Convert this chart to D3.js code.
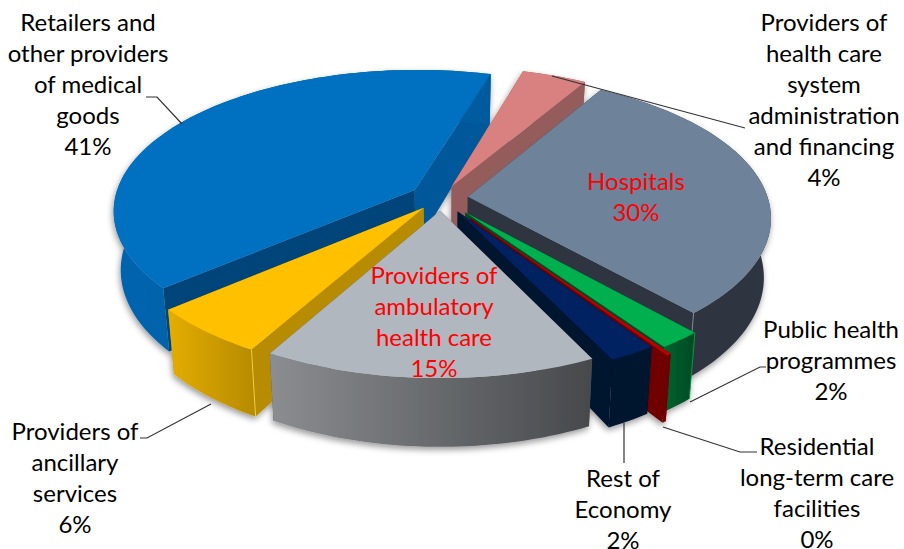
<!DOCTYPE html>
<html>
<head>
<meta charset="utf-8">
<script src="https://cdn.jsdelivr.net/npm/d3@7"></script>
<style>
  html, body { margin: 0; padding: 0; background: #fff; }
  svg { display: block; }
  text { font-family: Lato, Carlito, sans-serif; font-size: 24px; text-anchor: middle; dominant-baseline: central; fill: #000; }
</style>
</head>
<body>
<div id="chart"></div>
<script>
// chart values, clockwise from the Hospitals slice
const categories = ["Hospitals", "Public health programmes", "Residential long-term care facilities", "Rest of Economy", "Providers of ambulatory health care", "Providers of ancillary services", "Retailers and other providers of medical goods", "Providers of health care system administration and financing"];
const values = [30, 2, 0.2, 2.2, 15.4, 5.6, 40.8, 4];
const percentLabels = ["30%", "2%", "0%", "2%", "15%", "6%", "41%", "4%"];

// slice styling, same order as above
const explode = [0.09, 0.13, 0.17, 0.11, 0.09, 0.09, 0.105, 0.09];
const topColors = ["#6e8299", "#00b050", "#c00000", "#002060", "#b1b7bf", "#ffc000", "#0070c0", "#d98080"];
const wallLeft = ["#2e3640", "#00632e", "#700000", "#00122f", "#8b8d90", "#e4ad00", "#0064ae", "#955b5b"];
const wallRight = ["#2e3640", "#004a22", "#700000", "#00122f", "#46494c", "#b88c00", "#005a9e", "#955b5b"];
const cutStart = ["#2e3640", "#004a22", "#700000", "#00122f", "#46494c", "#b88c00", "#00457a", "#955b5b"];
const cutEnd = ["#2e3640", "#004a22", "#700000", "#00122f", "#46494c", "#b88c00", "#00599b", "#955b5b"];
const drawOrder = [6, 7, 0, 1, 2, 3, 5, 4];
// light seam down the near corner: slice index, which end of its rim, colour
const seams = [[0, "end", "#8b97a5"], [5, "start", "#ffd54d"], [1, "start", "#00b050"]];

// text blocks: lines, centre x, first line y
const labelLines = [
  ["Hospitals", percentLabels[0]],
  ["Public health", "programmes", percentLabels[1]],
  ["Residential", "long-term care", "facilities", percentLabels[2]],
  ["Rest of", "Economy", percentLabels[3]],
  ["Providers of", "ambulatory", "health care", percentLabels[4]],
  ["Providers of", "ancillary", "services", percentLabels[5]],
  ["Retailers and", "other providers", "of medical", "goods", percentLabels[6]],
  ["Providers of", "health care", "system", "administration", "and financing", percentLabels[7]]
];
const labelX = [636, 831, 817, 623, 434, 75, 88, 824];
const labelY = [180, 328, 445, 477, 274, 430, 21, 21];
const labelColor = ["#ff0000", "#000", "#000", "#000", "#ff0000", "#000", "#000", "#000"];
const leaders = [
  [[690, 402], [760, 367], [766, 367]],
  [[663, 427], [740, 452], [757, 452]],
  [[624, 423], [624, 463]],
  [[140, 438], [147, 438], [211, 404]],
  [[146, 97], [157, 97], [182, 124]],
  [[552, 76], [745, 128]]
];

const width = 904, height = 549;
const cx = 441, cy = 198, radius = 300, tilt = 0.465, wallH = 58;
const persX = 0.14, persY = 0.143, sink = 0.022;

const svg = d3.select("#chart").append("svg").attr("width", width).attr("height", height);
const defs = svg.append("defs");

const shadow = defs.append("filter").attr("id", "soft").attr("x", "-10%").attr("y", "-10%").attr("width", "120%").attr("height", "125%");
shadow.append("feDropShadow").attr("dx", -1).attr("dy", 3).attr("stdDeviation", 3).attr("flood-color", "#000").attr("flood-opacity", 0.4);

const pie = d3.pie().sort(null).startAngle(30.5 * Math.PI / 180).endAngle(390.5 * Math.PI / 180);
const slices = pie(values);

// theta clockwise from north, r in pie radii, z 0 = top face 1 = bottom
const project = (theta, r, z, slice, off) => {
  const mid = (slice.startAngle + slice.endAngle) / 2;
  const X = r * Math.sin(theta) + off * Math.sin(mid);
  const Y = -r * Math.cos(theta) - off * Math.cos(mid);
  const wx = (1 - persX * Y) * (1 + sink * z);
  const wy = 1 - persY * Y;
  return [cx + radius * X / wx, cy + (radius * tilt * Y + wallH * z) / wy];
};

const line = d3.line();
const rim = (slice, off, z) => {
  const n = Math.max(2, Math.ceil((slice.endAngle - slice.startAngle) * 40));
  return d3.range(n + 1).map(i => project(slice.startAngle + (slice.endAngle - slice.startAngle) * i / n, 1, z, slice, off));
};

const pieLayer = svg.append("g").attr("filter", "url(#soft)");

drawOrder.forEach(i => {
  const s = slices[i], off = explode[i];
  const g = pieLayer.append("g").attr("class", "slice").datum(categories[i]);
  const top = rim(s, off, 0), bottom = rim(s, off, 1);

  const grad = defs.append("linearGradient").attr("id", "wall" + i)
    .attr("gradientUnits", "userSpaceOnUse")
    .attr("x1", d3.min(top, d => d[0])).attr("x2", d3.max(top, d => d[0]))
    .attr("y1", 0).attr("y2", 0);
  grad.append("stop").attr("offset", 0).attr("stop-color", wallLeft[i]);
  grad.append("stop").attr("offset", 1).attr("stop-color", wallRight[i]);

  const apexTop = project(0, 0, 0, s, off), apexBottom = project(0, 0, 1, s, off);
  // the two radial cut faces, then the outer wall, then the top face over them
  g.append("path").attr("fill", cutStart[i])
    .attr("d", line([apexTop, top[0], bottom[0], apexBottom]) + "Z");
  g.append("path").attr("fill", cutEnd[i])
    .attr("d", line([apexTop, top[top.length - 1], bottom[bottom.length - 1], apexBottom]) + "Z");
  g.append("path").attr("fill", `url(#wall${i})`)
    .attr("d", line(top.concat(bottom.slice().reverse())) + "Z");

  seams.filter(d => d[0] === i).forEach(d => {
    const k = d[1] === "start" ? 0 : top.length - 1;
    g.append("path").attr("stroke", d[2]).attr("stroke-width", 0.8).attr("fill", "none")
      .attr("d", line([top[k], bottom[k]]));
  });

  g.append("path").attr("fill", topColors[i])
    .attr("d", line([apexTop].concat(top)) + "Z");
});

// leader lines
svg.append("g").selectAll("path").data(leaders).join("path")
  .attr("d", d => line(d))
  .attr("fill", "none")
  .attr("stroke", "#333")
  .attr("stroke-width", 1.2);

// labels
const labels = svg.append("g").selectAll("text").data(labelLines).join("text")
  .attr("x", (d, i) => labelX[i])
  .attr("y", (d, i) => labelY[i])
  .style("fill", (d, i) => labelColor[i]);
labels.selectAll("tspan").data(d => d).join("tspan")
  .attr("x", function () { return d3.select(this.parentNode).attr("x"); })
  .attr("dy", (d, j) => j === 0 ? 0 : 31)
  .text(d => d);
</script>
</body>
</html>
